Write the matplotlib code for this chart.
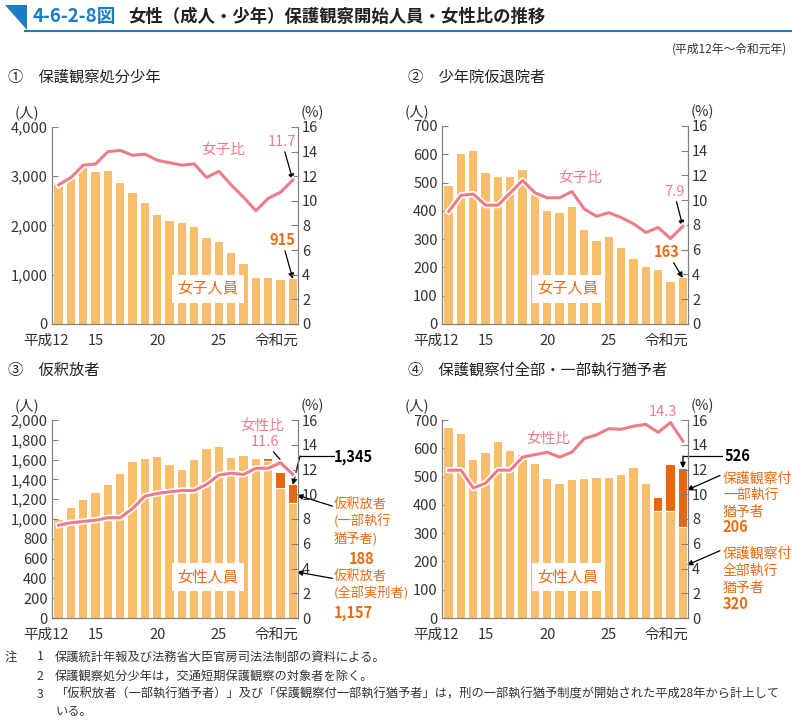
import matplotlib
matplotlib.use('Agg')
from matplotlib import pyplot as plt
import matplotlib.patheffects as pe
from matplotlib.patches import Polygon
from matplotlib.transforms import ScaledTranslation
from matplotlib.ticker import FuncFormatter
import numpy as np

plt.rcParams['font.family'] = ['Noto Sans CJK JP', 'DejaVu Sans']

years = list(range(20))  # 平成12 ... 令和元
tick_pos = [0, 3, 8, 13, 19]
tick_labels = ['平成12', '15', '20', '25', '令和元']

# ① 保護観察処分少年
p1_count = [2867, 2975, 3190, 3089, 3103, 2853, 2651, 2449, 2212, 2091,
            2044, 1976, 1740, 1659, 1450, 1214, 931, 931, 897, 915]
p1_ratio = [11.3, 11.9, 12.9, 13.0, 14.0, 14.1, 13.7, 13.8, 13.3, 13.1,
            12.9, 13.0, 11.9, 12.4, 11.3, 10.3, 9.2, 10.2, 10.7, 11.7]

# ② 少年院仮退院者
p2_count = [488, 601, 612, 535, 521, 519, 545, 459, 401, 392,
            414, 332, 294, 308, 267, 229, 200, 191, 147, 163]
p2_ratio = [9.1, 10.4, 10.5, 9.6, 9.6, 10.6, 11.6, 10.6, 10.2, 10.2,
            10.7, 9.3, 8.7, 9.0, 8.6, 8.1, 7.4, 7.8, 6.9, 7.9]

# ③ 仮釈放者 (全部実刑者 / 一部執行猶予者)
p3_full = [988, 1113, 1191, 1258, 1339, 1450, 1578, 1602, 1622, 1545,
           1494, 1592, 1706, 1723, 1615, 1636, 1602, 1590, 1309, 1157]
p3_part = [0] * 17 + [12, 158, 188]
p3_ratio = [7.5, 7.7, 7.8, 7.9, 8.1, 8.1, 8.85, 9.85, 10.06, 10.2,
            10.3, 10.3, 10.8, 11.55, 11.7, 11.6, 12.1, 12.1, 12.55, 11.6]

# ④ 保護観察付全部・一部執行猶予者
p4_full = [672, 651, 559, 585, 622, 591, 575, 544, 492, 473,
           488, 491, 495, 496, 507, 531, 472, 379, 379, 320]
p4_part = [0] * 17 + [45, 161, 206]
p4_ratio = [11.95, 11.95, 10.5, 10.9, 11.95, 11.95, 13.0, 13.2, 13.4, 13.0,
            13.4, 14.5, 14.8, 15.3, 15.25, 15.5, 15.65, 15.0, 15.8, 14.3]

BAR = '#F8BE6C'
DARK = '#E8670C'
PINK = '#EE7C88'
ORANGE = '#EC6A12'
BLUE = '#1C7DC2'
GRAY = '#808080'
TXT = '#333333'

W, H = 792, 722
fig = plt.figure(figsize=(W / 100, H / 100), dpi=100)


def fx(px):
    return px / W


def fy(py):
    return 1 - py / H


def make_panel(left, top, bottom, ymax, ystep, count, ratio, part=None, comma=True):
    ax = fig.add_axes([fx(left), fy(bottom), fx(246), (bottom - top) / H])
    ax.bar(years, count, 0.68, color=BAR, edgecolor='none', zorder=2)
    if part is not None:
        ax.bar(years, part, 0.68, bottom=count, color=DARK, edgecolor='none', zorder=2)
        # white seam between the two parts
        for i in range(20):
            if part[i] > 0:
                ax.plot([i - 0.34, i + 0.34], [count[i], count[i]], color='white', lw=0.8, zorder=3)
    ax.set_xlim(-0.54, 19.42)
    ax.set_ylim(0, ymax)
    ax.set_yticks(np.arange(0, ymax + 1, ystep))
    if comma:
        ax.yaxis.set_major_formatter(FuncFormatter(lambda v, p: f'{int(v):,}'))
    ax.set_xticks(tick_pos)
    ax.set_xticklabels(tick_labels)
    ax.spines['top'].set_visible(False)
    for sp in ['left', 'bottom', 'right']:
        ax.spines[sp].set_color(GRAY)
    ax.tick_params(axis='y', direction='in', length=4, color=GRAY, labelsize=10.5, labelcolor=TXT, pad=3)
    ax.tick_params(axis='x', length=0, labelsize=10.5, labelcolor=TXT, pad=7)
    lbls = ax.get_xticklabels()
    lbls[0].set_ha('right')
    lbls[0].set_transform(lbls[0].get_transform() + ScaledTranslation(0.10, 0, fig.dpi_scale_trans))
    lbls[-1].set_ha('right')
    lbls[-1].set_transform(lbls[-1].get_transform() + ScaledTranslation(0.06, 0, fig.dpi_scale_trans))

    ax2 = ax.twinx()
    ax2.set_ylim(0, 16)
    ax2.set_yticks(range(0, 17, 2))
    ax2.spines['top'].set_visible(False)
    for sp in ['left', 'bottom', 'right']:
        ax2.spines[sp].set_color(GRAY)
    ax2.tick_params(axis='y', direction='in', length=5, color=GRAY, labelsize=10.5, labelcolor=TXT, pad=3)
    ax2.plot(years, ratio, color=PINK, lw=2.2, zorder=5,
             path_effects=[pe.Stroke(linewidth=4.5, foreground='white'), pe.Normal()])

    h = bottom - top
    ax.text(-0.1, 1 + 14 / h, '(人)', transform=ax.transAxes, ha='center', va='center', fontsize=10.5, color=TXT)
    ax.text(1.057, 1 + 14 / h, '(%)', transform=ax.transAxes, ha='center', va='center', fontsize=10.5, color=TXT)
    return ax, ax2


def box_label(ax, x, y, s):
    ax.text(x, y, s, transform=ax.transAxes, ha='center', va='center', fontsize=11, color=ORANGE,
            zorder=10, bbox=dict(facecolor='white', edgecolor='none', pad=4))


arrow = dict(arrowstyle='-|>', color='black', lw=0.9, mutation_scale=8, shrinkA=0, shrinkB=0)

# title bar
fig.patches.append(Polygon([[fx(5), fy(5)], [fx(27), fy(5)], [fx(27), fy(30)]], closed=True,
                           transform=fig.transFigure, facecolor=BLUE, edgecolor='none'))
fig.add_artist(plt.Line2D([fx(25), 1], [fy(30.5), fy(30.5)], transform=fig.transFigure, color=BLUE, lw=1.5))
fig.text(fx(33), fy(17), '4-6-2-8図', color=BLUE, fontsize=13.5, fontweight='bold', va='center')
fig.text(fx(128), fy(17), '女性（成人・少年）保護観察開始人員・女性比の推移', color='#222222',
         fontsize=12.5, fontweight='bold', va='center')
fig.text(fx(787), fy(49), '(平成12年～令和元年)', ha='right', va='center', fontsize=8.5, color=TXT)

# panel titles
fig.text(fx(8), fy(77), '①　保護観察処分少年', fontsize=11, va='center', color='#222222')
fig.text(fx(408), fy(77), '②　少年院仮退院者', fontsize=11, va='center', color='#222222')
fig.text(fx(8), fy(370), '③　仮釈放者', fontsize=11, va='center', color='#222222')
fig.text(fx(408), fy(370), '④　保護観察付全部・一部執行猶予者', fontsize=11, va='center', color='#222222')

# ① panel
ax, ax2 = make_panel(52, 127, 324, 4000, 1000, p1_count, p1_ratio)
ax.text(0.695, 0.883, '女子比', transform=ax.transAxes, ha='center', va='center', fontsize=10.5, color=PINK)
ax2.annotate('11.7', xy=(19, p1_ratio[-1]), xytext=(0.935, 0.924), textcoords=ax.transAxes,
             ha='center', va='center', fontsize=10.5, color=PINK, arrowprops=arrow)
ax.annotate('915', xy=(19, p1_count[-1]), xytext=(0.935, 0.426), textcoords=ax.transAxes,
            ha='center', va='center', fontsize=10.5, color=ORANGE, fontweight='bold', arrowprops=arrow)
box_label(ax, 0.634, 0.178, '女子人員')

# ② panel
ax, ax2 = make_panel(442, 126, 324, 700, 100, p2_count, p2_ratio, comma=False)
ax.text(0.561, 0.737, '女子比', transform=ax.transAxes, ha='center', va='center', fontsize=10.5, color=PINK)
ax2.annotate('7.9', xy=(19, p2_ratio[-1]), xytext=(0.943, 0.667), textcoords=ax.transAxes,
             ha='center', va='center', fontsize=10.5, color=PINK, arrowprops=arrow)
ax.annotate('163', xy=(19, p2_count[-1]), xytext=(0.915, 0.364), textcoords=ax.transAxes,
            ha='center', va='center', fontsize=10.5, color=ORANGE, fontweight='bold', arrowprops=arrow)
box_label(ax, 0.512, 0.177, '女子人員')

# ③ panel
ax, ax2 = make_panel(52, 420, 618, 2000, 200, p3_full, p3_ratio, part=p3_part)
ax.text(0.854, 0.969, '女性比', transform=ax.transAxes, ha='center', va='center', fontsize=10.5, color=PINK)
ax2.annotate('11.6', xy=(19, p3_ratio[-1]), xytext=(0.866, 0.889), textcoords=ax.transAxes,
             ha='center', va='center', fontsize=10.5, color=PINK, arrowprops=arrow)
total3 = p3_full[-1] + p3_part[-1]
ax.text(1.224, 0.813, f'{total3:,}', transform=ax.transAxes, ha='center', va='center',
        fontsize=10.5, fontweight='bold', color='black')
ax.plot([1.145, 1.008], [0.818, 0.818], transform=ax.transAxes, color='black', lw=0.9, clip_on=False)
ax.annotate('', xy=(19, total3), xytext=(1.008, 0.818), textcoords=ax.transAxes, arrowprops=arrow)
ax.annotate('', xy=(19.34, p3_full[-1] + p3_part[-1] * 0.45), xytext=(1.14, 0.565), textcoords=ax.transAxes,
            arrowprops=arrow)
ax.text(1.145, 0.605, '仮釈放者\n(一部執行\n猶予者)', transform=ax.transAxes, ha='left', va='top',
        fontsize=9.5, color=ORANGE, linespacing=1.3)
ax.text(1.26, 0.30, f'{p3_part[-1]}', transform=ax.transAxes, ha='center', va='center',
        fontsize=10.5, fontweight='bold', color=ORANGE)
ax.annotate('', xy=(19.34, 465), xytext=(1.14, 0.20), textcoords=ax.transAxes, arrowprops=arrow)
ax.text(1.145, 0.242, '仮釈放者\n(全部実刑者)', transform=ax.transAxes, ha='left', va='top',
        fontsize=9.5, color=ORANGE, linespacing=1.3)
ax.text(1.145, 0.025, f'{p3_full[-1]:,}', transform=ax.transAxes, ha='left', va='center',
        fontsize=10.5, fontweight='bold', color=ORANGE)
box_label(ax, 0.634, 0.207, '女性人員')

# ④ panel
ax, ax2 = make_panel(442, 420, 618, 700, 100, p4_full, p4_ratio, part=p4_part, comma=False)
ax.text(0.431, 0.904, '女性比', transform=ax.transAxes, ha='center', va='center', fontsize=10.5, color=PINK)
ax2.annotate('14.3', xy=(19, p4_ratio[-1]), xytext=(0.898, 1.04), textcoords=ax.transAxes,
             ha='center', va='center', fontsize=10.5, color=PINK, arrowprops=arrow)
total4 = p4_full[-1] + p4_part[-1]
ax.text(1.2, 0.818, f'{total4}', transform=ax.transAxes, ha='center', va='center',
        fontsize=10.5, fontweight='bold', color='black')
ax.plot([1.14, 0.98], [0.818, 0.818], transform=ax.transAxes, color='black', lw=0.9, clip_on=False)
ax.annotate('', xy=(19, total4 + 4), xytext=(0.98, 0.818), textcoords=ax.transAxes, arrowprops=arrow)
ax.annotate('', xy=(19.34, 452), xytext=(1.13, 0.72), textcoords=ax.transAxes, arrowprops=arrow)
ax.text(1.142, 0.74, '保護観察付\n一部執行\n猶予者', transform=ax.transAxes, ha='left', va='top',
        fontsize=10, color=ORANGE, linespacing=1.25)
ax.text(1.142, 0.46, f'{p4_part[-1]}', transform=ax.transAxes, ha='left', va='center',
        fontsize=10.5, fontweight='bold', color=ORANGE)
ax.annotate('', xy=(19.34, 187), xytext=(1.13, 0.34), textcoords=ax.transAxes, arrowprops=arrow)
ax.text(1.142, 0.358, '保護観察付\n全部執行\n猶予者', transform=ax.transAxes, ha='left', va='top',
        fontsize=10, color=ORANGE, linespacing=1.25)
ax.text(1.142, 0.07, f'{p4_full[-1]}', transform=ax.transAxes, ha='left', va='center',
        fontsize=10.5, fontweight='bold', color=ORANGE)
box_label(ax, 0.512, 0.207, '女性人員')

# notes
notes = [
    ('注', '1', '保護統計年報及び法務省大臣官房司法法制部の資料による。', 657),
    ('', '2', '保護観察処分少年は，交通短期保護観察の対象者を除く。', 676),
    ('', '3', '「仮釈放者（一部執行猶予者）」及び「保護観察付一部執行猶予者」は，刑の一部執行猶予制度が開始された平成28年から計上して', 694),
    ('', '', 'いる。', 711),
]
for a, b, c, y in notes:
    if a:
        fig.text(fx(5), fy(y), a, fontsize=8.8, va='center', color=TXT)
    if b:
        fig.text(fx(37), fy(y), b, fontsize=8.8, va='center', color=TXT)
    fig.text(fx(55), fy(y), c, fontsize=8.8, va='center', color=TXT)

fig.savefig('out.png', dpi=100)
